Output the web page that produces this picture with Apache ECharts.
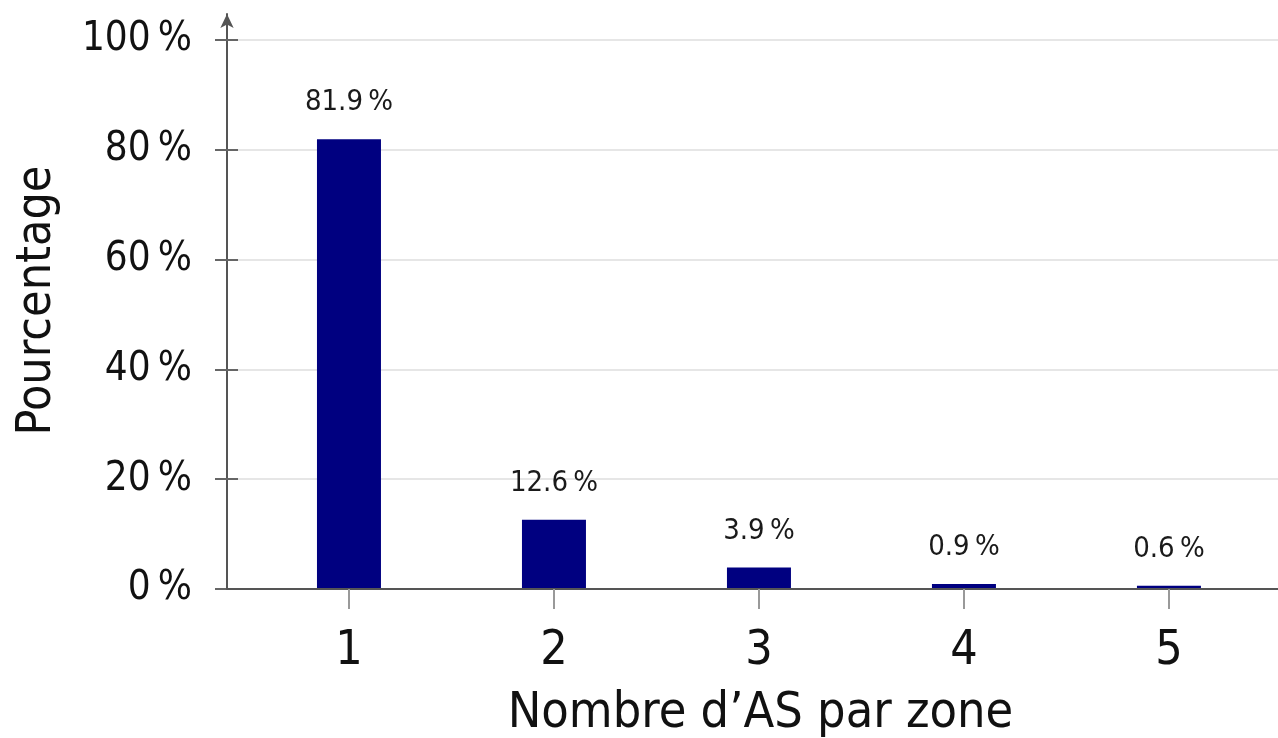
<!DOCTYPE html>
<html>
<head>
<meta charset="utf-8">
<script src="https://cdn.jsdelivr.net/npm/echarts@6/dist/echarts.min.js"></script>
<style>
html,body{margin:0;padding:0;background:#fff;}
#chart{width:1278px;height:738px;}
</style>
</head>
<body>
<div id="chart"></div>
<script>
// Data
const categories = [1, 2, 3, 4, 5];
const percentages = [81.9, 12.6, 3.9, 0.9, 0.6];
const yTicks = [0, 20, 40, 60, 80, 100];

const FONT = '"DejaVu Sans Condensed", "DejaVu Sans", sans-serif';
const chart = echarts.init(document.getElementById('chart'), null, {renderer: 'canvas'});

const seriesData = categories.map((c, i) => [c, percentages[i]]);

const option = {
  backgroundColor: '#fff',
  animation: false,
  grid: [
    {left: 227, top: 40, width: 1051, height: 549, containLabel: false, outerBoundsMode: 'none'},
    {left: 227, top: 14, width: 1051, height: 575, containLabel: false, outerBoundsMode: 'none'},
    {left: 227, top: 40, width: 1051, height: 549, containLabel: false, outerBoundsMode: 'none'}
  ],
  xAxis: [
    {
      gridIndex: 0,
      type: 'value',
      min: 0.405,
      max: 5.532,
      name: "Nombre d\u2019AS par zone",
      nameLocation: 'middle',
      nameGap: 100,
      nameTextStyle: {fontFamily: FONT, fontSize: 50, color: '#111', padding: [0, 0, 0, 16]},
      axisLine: {show: true, lineStyle: {color: '#555', width: 2}},
      axisTick: {show: true, length: 20, lineStyle: {color: '#999', width: 2}, customValues: categories},
      axisLabel: {show: true, customValues: categories, margin: 39, fontFamily: FONT, fontSize: 48, color: '#111',
        formatter: v => String(v)},
      splitLine: {show: false},
      z: 4
    },
    {gridIndex: 1, type: 'value', min: 0, max: 1, show: false},
    {gridIndex: 2, type: 'value', min: 0, max: 1, show: false}
  ],
  yAxis: [
    {
      gridIndex: 0,
      type: 'value',
      min: 0,
      max: 100,
      interval: 20,
      position: 'left',
      name: 'Pourcentage',
      nameLocation: 'middle',
      nameGap: 137,
      nameTextStyle: {fontFamily: FONT, fontSize: 48, color: '#111', padding: [0, 0, 28, 28]},
      axisLine: {show: false},
      axisTick: {show: true, length: 12, lineStyle: {color: '#666', width: 2}},
      axisLabel: {show: true, margin: 35, fontFamily: FONT, fontSize: 40, color: '#111',
        formatter: v => v + '\u2009%'},
      splitLine: {show: true, showMinLine: false, lineStyle: {color: '#e6e6e6', width: 2}}
    },
    {
      gridIndex: 1,
      type: 'value',
      min: 0,
      max: 1,
      position: 'left',
      axisLine: {show: true, symbol: ['none', 'arrow'], symbolSize: [10, 14], lineStyle: {color: '#555', width: 2}},
      axisTick: {show: false},
      axisLabel: {show: false},
      splitLine: {show: false}
    },
    {
      gridIndex: 2,
      type: 'value',
      min: 0,
      max: 100,
      interval: 20,
      position: 'left',
      axisLine: {show: false},
      axisTick: {show: true, inside: true, length: 11, lineStyle: {color: '#666', width: 2}},
      axisLabel: {show: false},
      splitLine: {show: false}
    }
  ],
  series: [
    {
      type: 'bar',
      xAxisIndex: 0,
      yAxisIndex: 0,
      data: seriesData,
      barWidth: 64,
      itemStyle: {color: '#000080'},
      label: {
        show: true,
        position: 'top',
        distance: 22,
        fontFamily: FONT,
        fontSize: 29,
        color: '#1a1a1a',
        formatter: p => p.value[1].toFixed(1) + '\u2009%'
      },
      z: 3
    }
  ]
};
chart.setOption(option);
</script>
</body>
</html>
